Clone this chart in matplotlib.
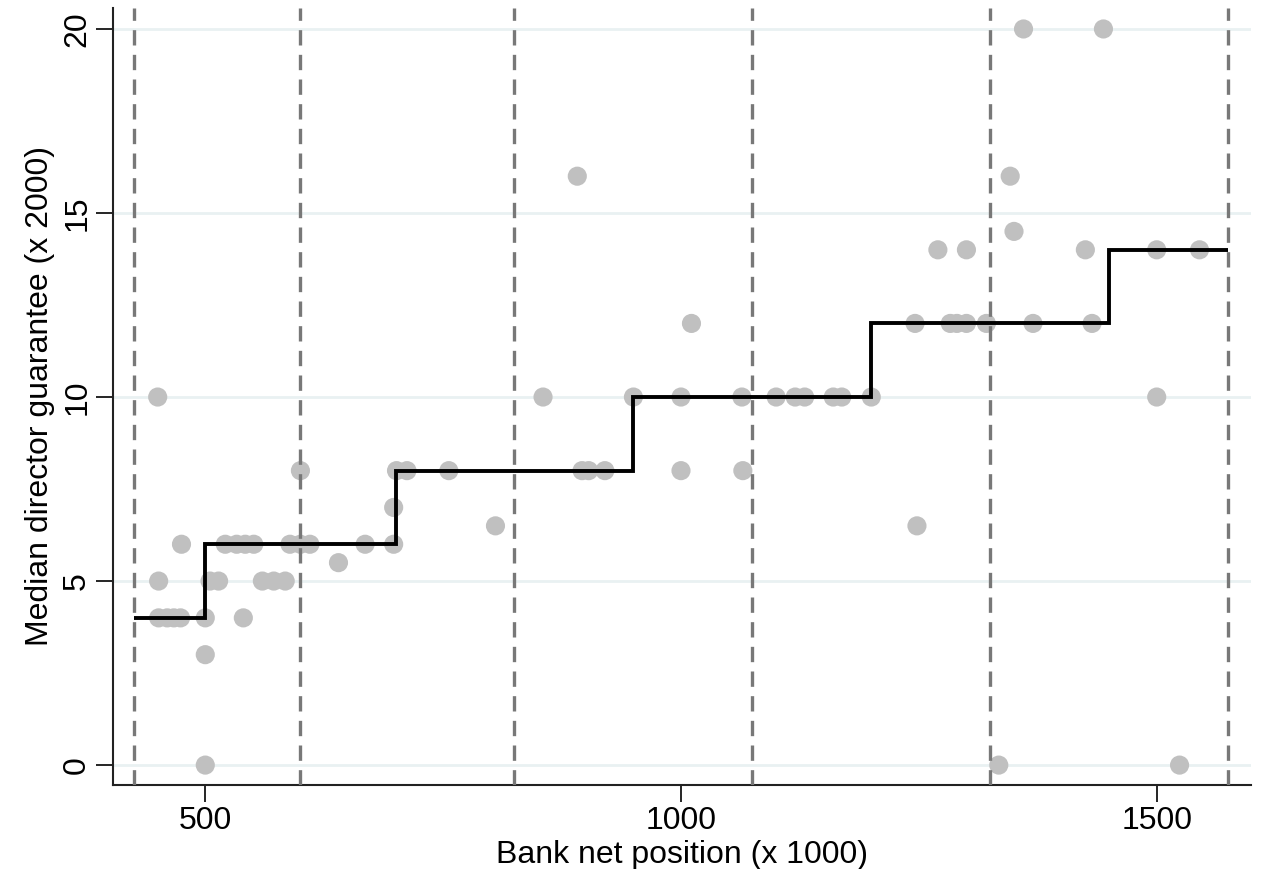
import matplotlib
matplotlib.use("Agg")
import matplotlib.pyplot as plt

plt.rcParams['font.family'] = ['Liberation Sans', 'DejaVu Sans']

# scatter points (bank net position, median director guarantee)
pos_x = [500, 1334, 1524,
         500,
         451, 460, 467, 474, 500, 540,
         451, 505, 514, 560, 572, 584,
         640,
         475, 521, 533, 542, 551, 589, 600, 610, 668, 698,
         805, 1248,
         698,
         600, 701, 712, 756, 896, 903, 920, 1000, 1065,
         450, 855, 950, 1000, 1064, 1100, 1120, 1130, 1160, 1169, 1200, 1500,
         1011, 1246, 1283, 1290, 1300, 1321, 1370, 1432,
         1270, 1300, 1425, 1500, 1545,
         1350,
         891, 1346,
         1360, 1444]
guar_y = [0, 0, 0,
          3,
          4, 4, 4, 4, 4, 4,
          5, 5, 5, 5, 5, 5,
          5.5,
          6, 6, 6, 6, 6, 6, 6, 6, 6, 6,
          6.5, 6.5,
          7,
          8, 8, 8, 8, 8, 8, 8, 8, 8,
          10, 10, 10, 10, 10, 10, 10, 10, 10, 10, 10, 10,
          12, 12, 12, 12, 12, 12, 12, 12,
          14, 14, 14, 14, 14,
          14.5,
          16, 16,
          20, 20]

# step function of the rule
step_edges = [425, 500, 700, 950, 1200, 1450, 1575]
step_levels = [4, 6, 8, 10, 12, 14]

# bin cutoffs
cutoffs = [425, 600, 825, 1075, 1325, 1575]

fig = plt.figure(figsize=(12.61, 8.69), dpi=100)
ax = fig.add_axes([0.0896, 0.0967, 0.9024, 0.8941])

for yv in [0, 5, 10, 15, 20]:
    ax.axhline(yv, color='#e9f1f2', lw=2, zorder=0)

ax.scatter(pos_x, guar_y, s=190, color='#c0c0c0', edgecolors='none', zorder=2)

for c in cutoffs:
    ax.axvline(c, color='#787878', lw=2.4, dashes=(4.6, 2.8), zorder=3)

ax.stairs(step_levels, step_edges, color='black', lw=2.8, baseline=None, zorder=4)

ax.set_xlim(403, 1599)
ax.set_ylim(-0.54, 20.57)
ax.set_xticks([500, 1000, 1500])
ax.set_yticks([0, 5, 10, 15, 20])
ax.tick_params(axis='both', direction='out', length=12, width=1.2, labelsize=23, pad=3)
for lab in ax.get_yticklabels():
    lab.set_rotation(90)
    lab.set_va('center')

for side in ['top', 'right']:
    ax.spines[side].set_visible(False)
for side in ['left', 'bottom']:
    ax.spines[side].set_linewidth(1.5)
    ax.spines[side].set_color('#222222')

ax.set_xlabel('Bank net position (x 1000)', fontsize=23, labelpad=3)
ax.set_ylabel('Median director guarantee (x 2000)', fontsize=23, labelpad=5)

fig.savefig('out.png', dpi=100)
